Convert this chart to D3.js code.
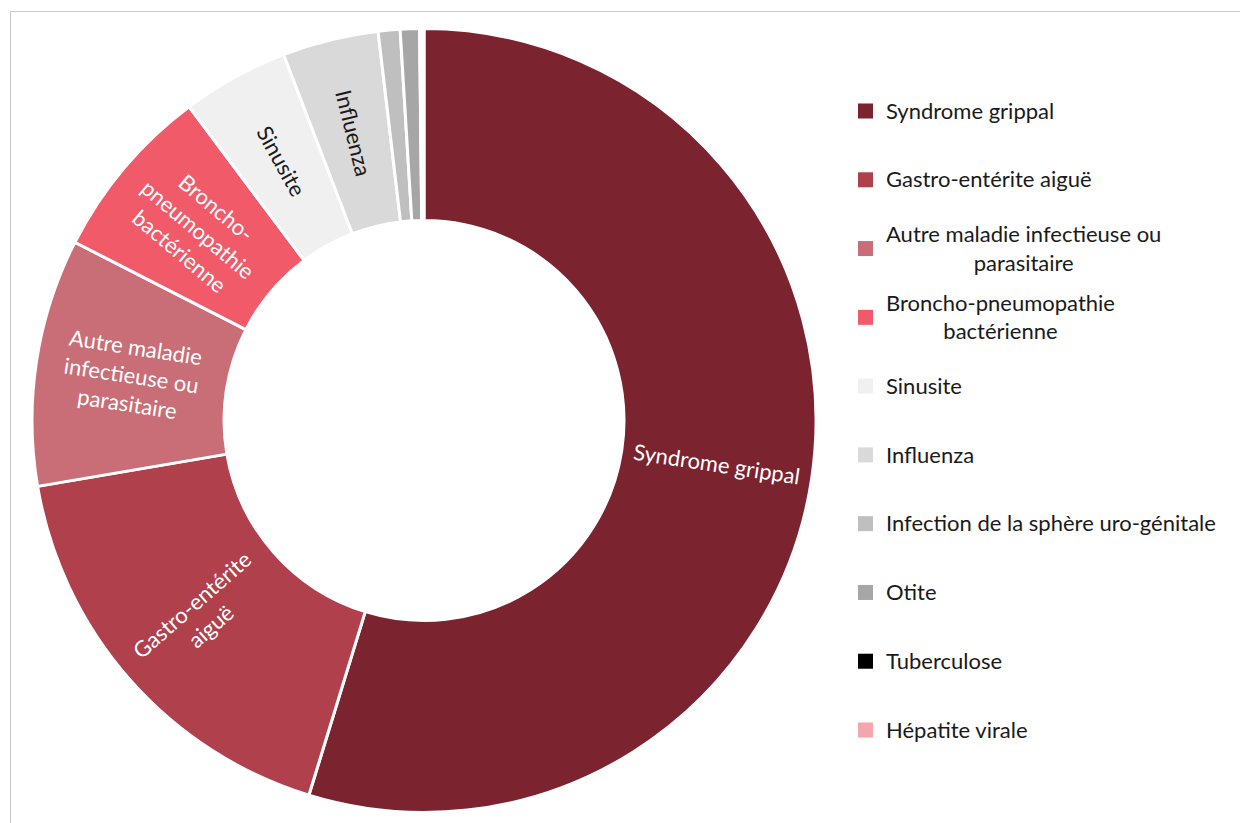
<!DOCTYPE html>
<html>
<head>
<meta charset="utf-8">
<script src="https://cdn.jsdelivr.net/npm/d3@7"></script>
<style>
  html, body { margin: 0; padding: 0; background: #fff; }
  svg { display: block; font-family: Lato, "Open Sans", sans-serif; }
</style>
</head>
<body>
<svg id="chart" width="1240" height="823"></svg>
<script>
// Diagnoses (share of consultations, %)
const categories = [
  "Syndrome grippal",
  "Gastro-entérite aiguë",
  "Autre maladie infectieuse ou parasitaire",
  "Broncho-pneumopathie bactérienne",
  "Sinusite",
  "Influenza",
  "Infection de la sphère uro-génitale",
  "Otite",
  "Tuberculose",
  "Hépatite virale"
];
const values = [54.75, 17.57, 10.2, 7.26, 4.4, 3.96, 0.9, 0.79, 0.09, 0.09];
const colors = ["#7b242f", "#b0404c", "#c96e76", "#f05a69", "#f0f0f0",
                "#d9d9d9", "#bfbfbf", "#a6a6a6", "#000000", "#f4a6ac"];
// Slice labels, broken into lines (empty = no label)
const sliceLabels = [
  ["Syndrome grippal"],
  ["Gastro-entérite", "aiguë"],
  ["Autre maladie", "infectieuse ou", "parasitaire"],
  ["Broncho-", "pneumopathie", "bactérienne"],
  ["Sinusite"],
  ["Influenza"],
  [], [], [], []
];
// Legend entries, broken into lines
const legendLabels = [
  ["Syndrome grippal"],
  ["Gastro-entérite aiguë"],
  ["Autre maladie infectieuse ou", "parasitaire"],
  ["Broncho-pneumopathie", "bactérienne"],
  ["Sinusite"],
  ["Influenza"],
  ["Infection de la sphère uro-génitale"],
  ["Otite"],
  ["Tuberculose"],
  ["Hépatite virale"]
];

const svg = d3.select("#chart");
const data = categories.map((c, i) => ({ name: c, value: values[i], i }));

// Chart frame
svg.append("rect")
  .attr("x", 10.5).attr("y", 11.5)
  .attr("width", 1240).attr("height", 830)
  .attr("fill", "none").attr("stroke", "#c8c8c8").attr("stroke-width", 1);

const cx = 424, cy = 420.5, rOuter = 392, rInner = 200;
const color = d3.scaleOrdinal().domain(categories).range(colors);

const pie = d3.pie().value(d => d.value).sort(null);
const arc = d3.arc().innerRadius(rInner).outerRadius(rOuter);
const labelArc = d3.arc().innerRadius((rInner + rOuter) / 2).outerRadius((rInner + rOuter) / 2);

const g = svg.append("g").attr("transform", `translate(${cx},${cy})`);
const arcs = pie(data);

g.selectAll("path.slice")
  .data(arcs)
  .join("path")
  .attr("class", "slice")
  .attr("d", arc)
  .attr("fill", d => color(d.data.name))
  .attr("stroke", "#fff")
  .attr("stroke-width", 3)
  .attr("stroke-linejoin", "round");

// Radially oriented labels inside the ring
const fs = 22, lh = 28.5;
g.selectAll("text.slice-label")
  .data(arcs.filter(d => sliceLabels[d.data.i].length))
  .join("text")
  .attr("class", "slice-label")
  .attr("transform", d => {
    const [x, y] = labelArc.centroid(d);
    let rot = ((d.startAngle + d.endAngle) / 2) * 180 / Math.PI - 90;
    if (rot > 90) rot -= 180;
    return `translate(${x},${y}) rotate(${rot})`;
  })
  .attr("text-anchor", "middle")
  .attr("font-size", fs)
  .attr("fill", d => d.data.i === 4 || d.data.i === 5 ? "#1a1a1a" : "#ffffff")
  .each(function (d) {
    const lines = sliceLabels[d.data.i];
    const t = d3.select(this);
    lines.forEach((ln, k) => {
      t.append("tspan")
        .attr("x", 0)
        .attr("y", (k - (lines.length - 1) / 2) * lh)
        .attr("dy", "0.35em")
        .text(ln);
    });
  });

// Legend
const legendY = d3.scalePoint().domain(categories).range([111, 730]);
const legend = svg.append("g");
const items = legend.selectAll("g")
  .data(data)
  .join("g")
  .attr("transform", d => `translate(0,${legendY(d.name)})`);

items.append("rect")
  .attr("x", 858).attr("y", -7.5)
  .attr("width", 15).attr("height", 15)
  .attr("fill", d => color(d.name));

items.append("text")
  .attr("font-size", fs)
  .attr("fill", "#1a1a1a")
  .each(function (d) {
    const lines = legendLabels[d.i];
    const t = d3.select(this);
    lines.forEach((ln, k) => {
      t.append("tspan")
        .attr("y", (k - (lines.length - 1) / 2) * lh)
        .attr("dy", "0.35em")
        .text(ln);
    });
    if (lines.length === 1) {
      t.attr("text-anchor", "start").selectAll("tspan").attr("x", 886);
    } else {
      // wrapped entries are centred on the width of their first line
      const w = t.select("tspan").node().getComputedTextLength();
      t.attr("text-anchor", "middle").selectAll("tspan").attr("x", 886 + w / 2);
    }
  });
</script>
</body>
</html>
